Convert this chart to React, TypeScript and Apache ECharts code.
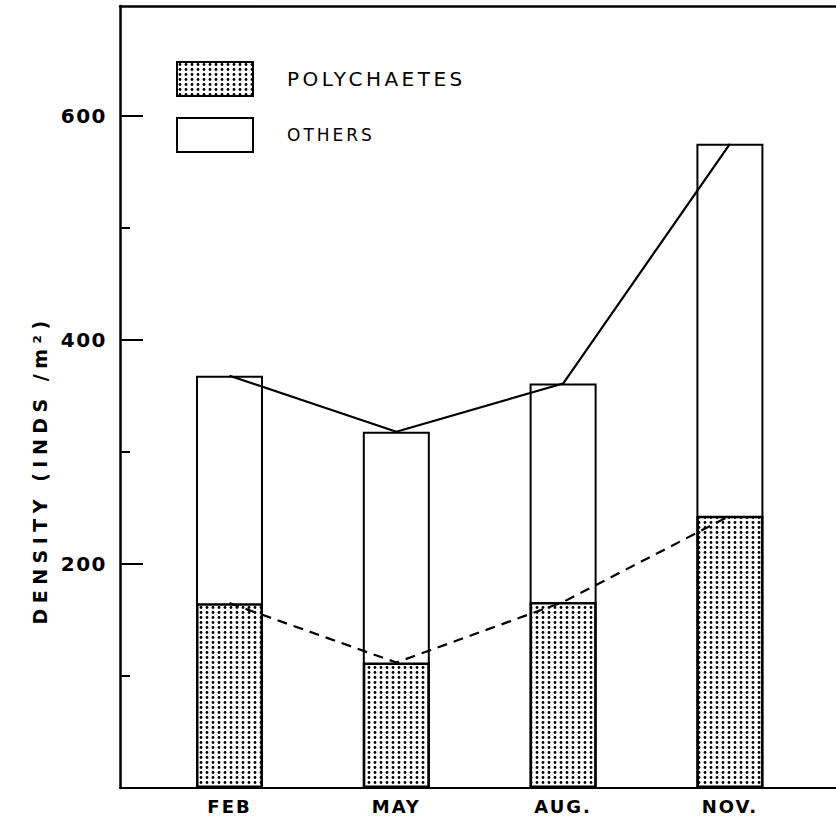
import React, { useEffect, useRef } from "react";
import * as echarts from "echarts";

const months = ["FEB", "MAY", "AUG.", "NOV."];
const monthPos = [1, 2, 3, 4];
const polychaetes = [165, 112, 166, 243];
const totals = [368, 318, 361, 575];
const yMajorTicks = [200, 400, 600];
const yMinorTicks = [100, 300, 500];
const yName = "DENSITY (INDS /m²)";

const FONT = "DejaVu Sans";

function makePattern(): HTMLCanvasElement {
  const c = document.createElement("canvas");
  c.width = 6;
  c.height = 5;
  const ctx = c.getContext("2d")!;
  ctx.fillStyle = "#ffffff";
  ctx.fillRect(0, 0, 6, 5);
  ctx.fillStyle = "#000000";
  ctx.beginPath();
  ctx.arc(3, 2.5, 1.4, 0, Math.PI * 2);
  ctx.fill();
  return c;
}

function spacingFor(t: string): number {
  if (t === "POLYCHAETES") return 3.5;
  if (t === "OTHERS") return 3;
  if (months.includes(t)) return 2;
  if (t === yName) return 5.5;
  if (/^\d+$/.test(t)) return 1.5;
  return 0;
}

export default function App() {
  const ref = useRef<HTMLDivElement>(null);
  useEffect(() => {
    if (!ref.current) return;
    const chart = echarts.init(ref.current, null, { renderer: "svg" });
    const pattern = { image: makePattern(), repeat: "repeat" };
    const xMin = 0.3435;
    const xMax = 4.636;
    const applySpacing = () => {
      if (!ref.current) return;
      ref.current.querySelectorAll("text").forEach((el) => {
        const s = spacingFor((el.textContent || "").trim());
        if (s) el.setAttribute("letter-spacing", String(s));
      });
    };
    chart.on("finished", applySpacing);
    chart.setOption({
      animation: false,
      backgroundColor: "#ffffff",
      grid: { left: 120, right: 0, top: 6, bottom: 29, show: false },
      legend: {
        orient: "vertical",
        left: 176,
        top: 61,
        padding: 0,
        itemWidth: 76,
        itemHeight: 34,
        itemGap: 20,
        icon: "rect",
        selectedMode: false,
        formatter: (name: string) => (name === "OTHERS" ? `{o|${name}}` : `{p|${name}}`),
        textStyle: {
          color: "#000",
          rich: {
            p: { fontFamily: FONT, fontSize: 20, color: "#000", padding: [0, 0, 0, 29] },
            o: { fontFamily: FONT, fontSize: 17, color: "#000", padding: [0, 0, 0, 29] },
          },
        },
        data: ["POLYCHAETES", "OTHERS"],
      },
      xAxis: [
        {
          type: "value",
          min: xMin,
          max: xMax,
          position: "bottom",
          splitLine: { show: false },
          axisLine: { show: true, onZero: false, lineStyle: { color: "#000", width: 2 } },
          axisTick: { show: false },
          axisLabel: {
            customValues: monthPos,
            formatter: (v: number) => months[monthPos.indexOf(Math.round(v))] ?? "",
            fontFamily: FONT,
            fontSize: 18,
            fontWeight: "bold",
            color: "#000",
            margin: 9,
          },
        },
        {
          type: "value",
          min: xMin,
          max: xMax,
          position: "top",
          splitLine: { show: false },
          axisLine: { show: true, onZero: false, lineStyle: { color: "#000", width: 2.5 } },
          axisTick: { show: false },
          axisLabel: { show: false },
        },
      ],
      yAxis: [
        {
          type: "value",
          min: 0,
          max: 698,
          position: "left",
          splitLine: { show: false },
          axisLine: { show: true, lineStyle: { color: "#000", width: 2.5 } },
          axisTick: {
            show: true,
            inside: true,
            length: 23,
            customValues: yMajorTicks,
            lineStyle: { color: "#000", width: 2 },
          },
          axisLabel: {
            customValues: yMajorTicks,
            fontFamily: FONT,
            fontSize: 20,
            fontWeight: "bold",
            color: "#000",
            margin: 13,
          },
        },
        {
          type: "value",
          min: 0,
          max: 698,
          position: "left",
          splitLine: { show: false },
          axisLine: { show: false },
          axisTick: {
            show: true,
            inside: true,
            length: 10,
            customValues: yMinorTicks,
            lineStyle: { color: "#000", width: 2 },
          },
          axisLabel: { show: false },
        },
      ],
      graphic: [
        {
          type: "text",
          x: 40,
          y: 470,
          rotation: Math.PI / 2,
          style: {
            text: yName,
            fontFamily: FONT,
            fontSize: 19,
            fontWeight: "bold",
            fill: "#000",
            align: "center",
            verticalAlign: "middle",
          },
        },
      ],
      series: [
        {
          name: "OTHERS",
          type: "bar",
          barWidth: 67,
          barGap: "-100%",
          data: monthPos.map((x, i) => [x, totals[i]]),
          itemStyle: { color: "#ffffff", borderColor: "#000", borderWidth: 2 },
          z: 2,
        },
        {
          name: "POLYCHAETES",
          type: "bar",
          barWidth: 67,
          barGap: "-100%",
          data: monthPos.map((x, i) => [x, polychaetes[i]]),
          itemStyle: { color: pattern, borderColor: "#000", borderWidth: 2.5 },
          z: 3,
        },
        {
          name: "totalLine",
          type: "line",
          data: monthPos.map((x, i) => [x, totals[i]]),
          symbol: "none",
          lineStyle: { color: "#000", width: 2.2 },
          z: 5,
        },
        {
          name: "polyLine",
          type: "line",
          data: monthPos.map((x, i) => [x, polychaetes[i]]),
          symbol: "none",
          lineStyle: { color: "#000", width: 2.2, type: [10, 7] },
          z: 5,
        },
      ],
    });
    applySpacing();
    return () => chart.dispose();
  }, []);
  return (
    <div
      ref={ref}
      style={{ position: "absolute", left: 0, top: 0, width: 836, height: 817 }}
    />
  );
}
